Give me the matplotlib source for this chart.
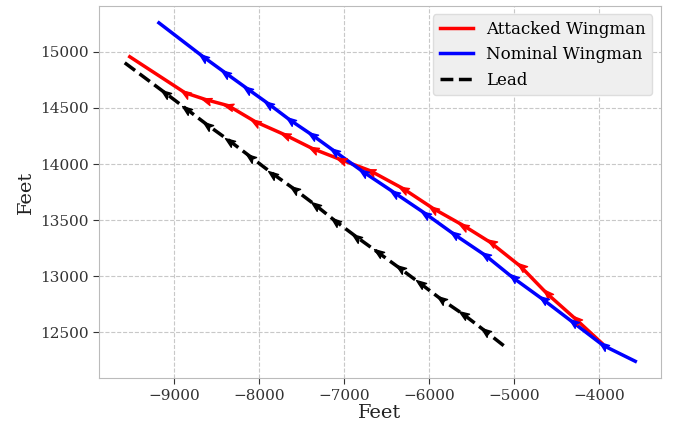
import numpy as np
import matplotlib
matplotlib.use("Agg")
import matplotlib.pyplot as plt
from matplotlib.path import Path
from matplotlib.markers import MarkerStyle
from matplotlib.transforms import Affine2D

# trajectories (feet), listed left to right; travel goes right -> left
attacked_x = [-9520, -8870, -8622, -8362, -8043, -7700, -7369, -7038, -6695, -6305,
              -5950, -5596, -5277, -4922, -4615, -4272, -3965]
attacked_y = [14956, 14635, 14573, 14520, 14377, 14262, 14137, 14039, 13941, 13781,
              13603, 13452, 13301, 13087, 12847, 12616, 12402]

nominal_x = [-9177, -8657, -8397, -8137, -7889, -7641, -7381, -7121, -6778, -6411,
             -6045, -5702, -5336, -5017, -4662, -4307, -3953, -3574]
nominal_y = [15258, 14956, 14813, 14671, 14537, 14395, 14262, 14119, 13932, 13746,
             13559, 13372, 13185, 12989, 12794, 12589, 12384, 12242]

lead_x = [-9579, -9106, -8858, -8610, -8350, -8102, -7842, -7593, -7345, -7109,
          -6860, -6600, -6340, -6104, -5856, -5596, -5336, -5111]
lead_y = [14902, 14635, 14493, 14350, 14208, 14066, 13915, 13781, 13639, 13496,
          13354, 13212, 13069, 12936, 12794, 12660, 12509, 12375]

plt.rcParams['font.family'] = 'DejaVu Serif'

fig = plt.figure(figsize=(6.75, 4.24), dpi=100)
ax = fig.add_axes([0.147, 0.108, 0.832, 0.878])

ax.plot(attacked_x, attacked_y, color='red', lw=2.5, label='Attacked Wingman')
ax.plot(nominal_x, nominal_y, color='blue', lw=2.5, label='Nominal Wingman')
ax.plot(lead_x, lead_y, color='black', lw=2.5, ls='--', label='Lead')

ax.grid(True, ls='--', color='#c8c8c8', lw=0.8)
ax.set_axisbelow(True)
for s in ax.spines.values():
    s.set_color('#bbbbbb')
ax.tick_params(colors='#333333', labelsize=11, length=4)
ax.set_xlabel('Feet', fontsize=14, color='#222222', labelpad=1)
ax.set_ylabel('Feet', fontsize=14, color='#222222')
ax.set_xticks([-9000, -8000, -7000, -6000, -5000, -4000])

leg = ax.legend(loc='upper right', fontsize=12, facecolor='#efefef',
                edgecolor='#dddddd', framealpha=1, fancybox=True, handlelength=2)

# arrowhead markers pointing along direction of travel
head = Path([(1, 0), (-1, 0.75), (-0.55, 0), (-1, -0.75), (1, 0)],
            [Path.MOVETO, Path.LINETO, Path.LINETO, Path.LINETO, Path.CLOSEPOLY])
fig.canvas.draw()
for xs, ys, c in [(attacked_x, attacked_y, 'red'), (nominal_x, nominal_y, 'blue'),
                  (lead_x, lead_y, 'black')]:
    pts = ax.transData.transform(np.column_stack([xs, ys]))
    for i in range(1, len(xs) - 1):
        d = pts[i - 1] - pts[i]
        ang = np.degrees(np.arctan2(d[1], d[0]))
        m = MarkerStyle(head, transform=Affine2D().rotate_deg(ang))
        ax.plot(xs[i], ys[i], marker=m, color=c, ms=7, ls='none')

fig.savefig('out.png', dpi=100)
